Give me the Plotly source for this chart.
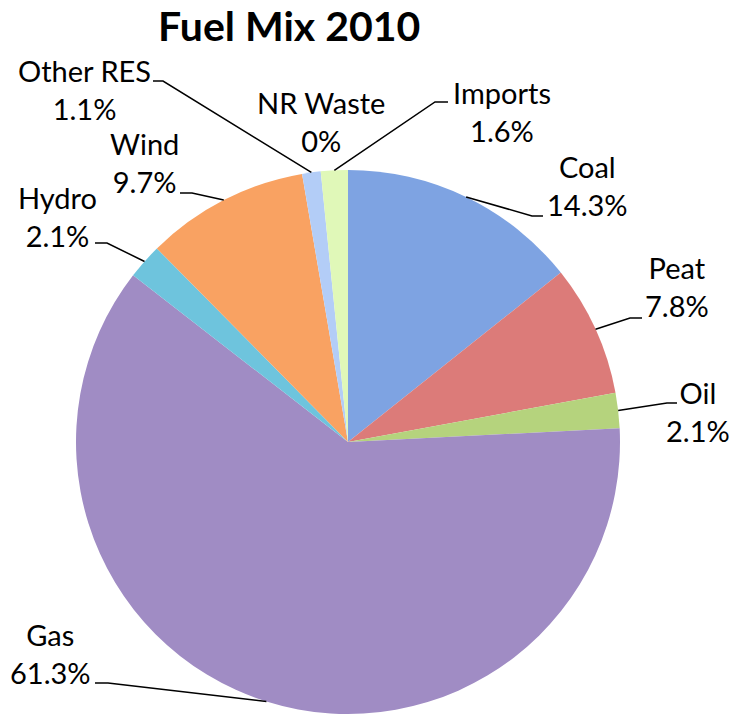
import numpy as np
import plotly.graph_objects as go

W, H = 732, 718

# Fuel mix shares (%), clockwise from 12 o'clock
sources = ["Coal", "Peat", "Oil", "Gas", "Hydro", "Wind", "Other RES", "NR Waste", "Imports"]
shares = [14.3, 7.8, 2.1, 61.3, 2.1, 9.7, 1.1, 0.0, 1.6]
colors = ["#7ea3e2", "#dc7b79", "#b5d37d", "#a08cc4", "#6ec4dd",
          "#f9a262", "#b3cdf7", "#c9c9c9", "#e0f8b8"]

# pie placement in pixels
CX, CY, R = 348, 442, 272

# label block centres (px)
label_xy = {
    "Coal": (587, 186), "Peat": (677, 287), "Oil": (698, 411),
    "Gas": (51, 653), "Hydro": (57, 216), "Wind": (144, 162),
    "Other RES": (84, 89), "NR Waste": (321, 122), "Imports": (502, 112),
}
# leader line elbow and end points (px)
leader_pts = {
    "Coal": [(532, 216), (543, 216)],
    "Peat": [(630, 318), (642, 318)],
    "Oil": [(667, 403), (677, 403)],
    "Gas": [(108, 683), (95, 683)],
    "Hydro": [(107, 243), (95, 243)],
    "Wind": [(192, 193), (180, 193)],
    "Other RES": [(163, 81), (153, 81)],
    "Imports": [(435, 102), (448, 102)],
}

FONT = "Lato, Carlito, 'Open Sans', sans-serif"


def px(x):
    return x / W


def py(y):
    return 1 - y / H


fig = go.Figure(go.Pie(
    labels=sources,
    values=shares,
    sort=False,
    direction="clockwise",
    rotation=0,
    marker=dict(colors=colors, line=dict(width=0)),
    textinfo="none",
    textposition="none",
    showlegend=False,
    domain=dict(x=[px(CX - R), px(CX + R)], y=[py(CY + R), py(CY - R)]),
))

vals = np.array(shares, dtype=float)
start = np.concatenate([[0.0], np.cumsum(vals)[:-1]])
mid_angle = 2 * np.pi * (start + vals / 2) / vals.sum()

annotations = [dict(
    text="<b>Fuel Mix 2010</b>", x=px(289), y=1, xref="paper", yref="paper",
    xanchor="center", yanchor="top", showarrow=False, borderpad=0,
    font=dict(family=FONT, size=41, color="black"),
)]
shapes = []
for name, v, a in zip(sources, shares, mid_angle):
    lx, ly = label_xy[name]
    annotations.append(dict(
        text=f"{name}<br>{v:g}%", x=px(lx), y=py(ly), xref="paper", yref="paper",
        xanchor="center", yanchor="middle", showarrow=False, align="center",
        font=dict(family=FONT, size=29, color="black"),
    ))
    if name in leader_pts:
        ex, ey = CX + R * np.sin(a), CY - R * np.cos(a)
        pts = [(ex, ey)] + leader_pts[name]
        path = "M " + " L ".join(f"{px(x):.5f},{py(y):.5f}" for x, y in pts)
        shapes.append(dict(type="path", path=path, xref="paper", yref="paper",
                           line=dict(color="black", width=1.5)))

fig.update_layout(
    width=W, height=H,
    margin=dict(l=0, r=0, t=0, b=0),
    paper_bgcolor="white", plot_bgcolor="white",
    annotations=annotations, shapes=shapes,
)

fig.write_html("out.html")
